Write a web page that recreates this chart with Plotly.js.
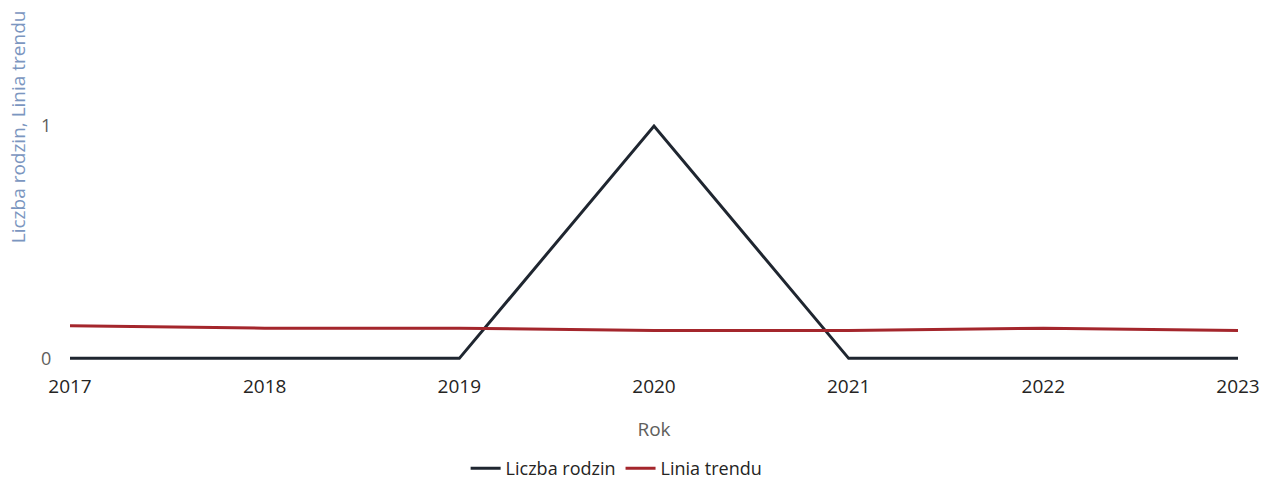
<!DOCTYPE html>
<html><head><meta charset="utf-8">
<script src="https://cdn.plot.ly/plotly-3.0.1.min.js"></script>
<style>body{margin:0;background:#fff}#chart{width:1262px;height:483px}</style>
</head><body><div id="chart"></div>
<script>
const years = [2017, 2018, 2019, 2020, 2021, 2022, 2023];
const liczbaRodzin = [0, 0, 0, 1, 0, 0, 0];
const liniaTrendu = [0.14, 0.13, 0.13, 0.12, 0.12, 0.13, 0.12];
const yTicks = [0, 1];

const font = '"Segoe UI", "Open Sans", "Noto Sans", sans-serif';
const traces = [
  {x: years, y: liczbaRodzin, name: 'Liczba rodzin', type: 'scatter', mode: 'lines',
   line: {color: '#1f2630', width: 3}},
  {x: years, y: liniaTrendu, name: 'Linia trendu', type: 'scatter', mode: 'lines',
   line: {color: '#a4262c', width: 3}}
];
const layout = {
  width: 1262, height: 483,
  margin: {l: 70, r: 24, t: 10, b: 120.4, autoexpand: false},
  paper_bgcolor: '#fff', plot_bgcolor: '#fff',
  font: {family: font, color: '#252423'},
  showlegend: true,
  legend: {orientation: 'h', x: 0.468, xanchor: 'center', y: (362.6 - 468) / 352.6, yanchor: 'middle',
    font: {size: 18, color: '#252423'}, itemwidth: 30, traceorder: 'normal'},
  xaxis: {range: [2017, 2023], tickmode: 'array', tickvals: years, ticktext: years.map(String),
    automargin: false,
    showgrid: false, zeroline: false, showline: false, ticks: 'outside', ticklen: 6, tickcolor: 'rgba(0,0,0,0)',
    tickfont: {size: 19, color: '#252423'},
    title: {text: 'Rok', font: {size: 19, color: '#605e5c'}, standoff: 24}},
  yaxis: {range: [-0.02, 1.5], tickmode: 'array', tickvals: yTicks, ticktext: yTicks.map(String),
    automargin: false,
    showgrid: false, zeroline: false, showline: false, ticks: 'outside', ticklen: 14, tickcolor: 'rgba(0,0,0,0)',
    tickfont: {size: 18, color: '#605e5c'}},
  annotations: [{
    text: 'Liczba rodzin, Linia trendu', textangle: -90, showarrow: false,
    xref: 'paper', yref: 'paper', x: -0.045, y: (362.6 - 245) / 352.6, xanchor: 'center', yanchor: 'bottom',
    font: {size: 19, color: '#7b96c0', family: font}
  }]
};
Plotly.newPlot('chart', traces, layout, {displayModeBar: false, staticPlot: true});
</script></body></html>
